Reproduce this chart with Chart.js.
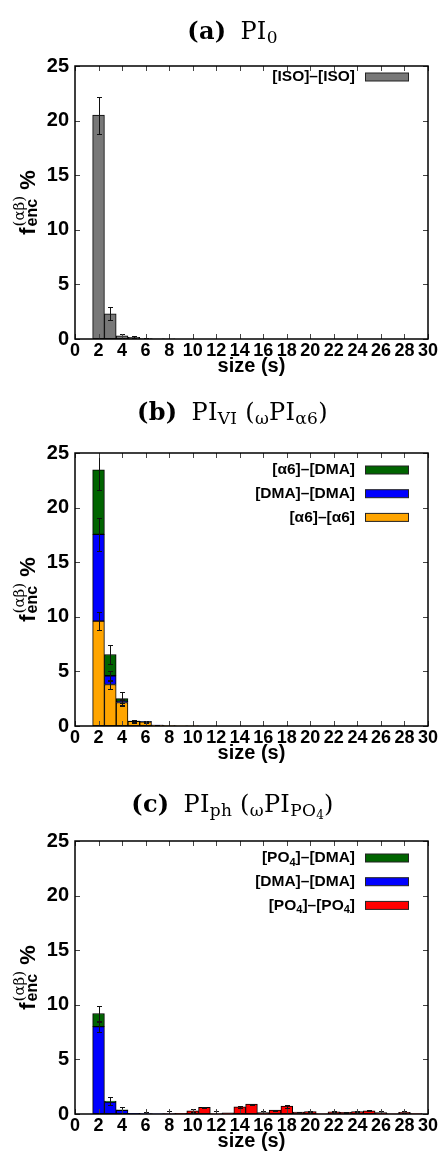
<!DOCTYPE html>
<html>
<head>
<meta charset="utf-8">
<script src="https://cdn.jsdelivr.net/npm/chart.js@4.4.1/dist/chart.umd.min.js"></script>
<style>
  html, body { margin: 0; padding: 0; background: #fff; overflow: hidden; }
  .panel { position: absolute; left: 0; width: 443px; height: 387px; }
  .panel canvas { position: absolute; left: 0; top: 0; }
  .panel h2 { position: absolute; left: 22px; width: 421px; margin: 0; text-align: center;
              font: 400 24px 'DejaVu Serif', serif; line-height: 26px; color: #000; letter-spacing: 0.3px; }
  .panel h2 b { margin-right: 14px; }
  .panel h2 sub { font-size: 17px; vertical-align: -4px; line-height: 0; }
  .panel h2 sub sub { font-size: 12px; vertical-align: -3px; }
</style>
</head>
<body>

<div class="panel" style="top:0">
  <canvas id="chartA" width="443" height="387"></canvas>
  <h2 style="top:18px"><b>(a)</b>PI<sub>0</sub></h2>
</div>
<div class="panel" style="top:387px">
  <canvas id="chartB" width="443" height="387"></canvas>
  <h2 style="top:12px"><b>(b)</b>PI<sub>VI</sub> (<sub>ω</sub>PI<sub>α6</sub>)</h2>
</div>
<div class="panel" style="top:775px">
  <canvas id="chartC" width="443" height="387"></canvas>
  <h2 style="top:16px"><b>(c)</b>PI<sub>ph</sub> (<sub>ω</sub>PI<sub>PO<sub>4</sub></sub>)</h2>
</div>

<script>
// cluster sizes on the x axis
const sizes = [2, 3, 4, 5, 6, 7, 8, 9, 10, 11, 12, 13, 14, 15, 16, 17, 18, 19, 20, 21, 22, 23, 24, 25, 26, 27, 28, 29];
const xTicks = [0, 2, 4, 6, 8, 10, 12, 14, 16, 18, 20, 22, 24, 26, 28, 30];
const yTicks = [0, 5, 10, 15, 20, 25];

// (a) PI0
const isoIso    = [20.5, 2.3, 0.3, 0.15, 0.04, 0.02, 0.01, 0, 0, 0, 0, 0, 0, 0, 0, 0, 0, 0, 0, 0, 0, 0, 0, 0, 0, 0, 0, 0];
const isoIsoErr = [1.7, 0.6, 0.2, 0.08, 0.03, 0, 0, 0, 0, 0, 0, 0, 0, 0, 0, 0, 0, 0, 0, 0, 0, 0, 0, 0, 0, 0, 0, 0];

// (b) PI_VI, stacked bottom to top
const a6A6       = [9.6, 3.8, 2.15, 0.42, 0.38, 0.08, 0.03, 0.01, 0.01, 0, 0, 0, 0, 0, 0, 0, 0, 0, 0, 0, 0, 0, 0, 0, 0, 0, 0, 0];
const a6A6Err    = [0.85, 0.42, 0.35, 0.15, 0.06, 0.02, 0, 0, 0, 0, 0, 0, 0, 0, 0, 0, 0, 0, 0, 0, 0, 0, 0, 0, 0, 0, 0, 0];
const dmaDmaB    = [7.95, 0.8, 0.1, 0.02, 0.02, 0.01, 0, 0, 0, 0, 0, 0, 0, 0, 0, 0, 0, 0, 0, 0, 0, 0, 0, 0, 0, 0, 0, 0];
const dmaDmaBErr = [1.5, 0.45, 0.1, 0, 0, 0, 0, 0, 0, 0, 0, 0, 0, 0, 0, 0, 0, 0, 0, 0, 0, 0, 0, 0, 0, 0, 0, 0];
const a6Dma      = [5.9, 1.95, 0.25, 0.02, 0.01, 0, 0, 0, 0, 0, 0, 0, 0, 0, 0, 0, 0, 0, 0, 0, 0, 0, 0, 0, 0, 0, 0, 0];
const a6DmaErr   = [1.85, 0.9, 0.6, 0.1, 0.05, 0, 0, 0, 0, 0, 0, 0, 0, 0, 0, 0, 0, 0, 0, 0, 0, 0, 0, 0, 0, 0, 0, 0];

// (c) PI_ph, stacked bottom to top
const po4Po4     = [0, 0, 0, 0, 0, 0, 0.01, 0.05, 0.3, 0.6, 0.02, 0.1, 0.65, 0.9, 0.12, 0.35, 0.72, 0.18, 0.22, 0.02, 0.2, 0.16, 0.22, 0.3, 0.12, 0.02, 0.15, 0.03];
const po4Po4Err  = [0, 0, 0, 0, 0, 0, 0.25, 0, 0.15, 0.04, 0.25, 0, 0.12, 0.04, 0.12, 0.05, 0.14, 0.03, 0.05, 0, 0.04, 0.03, 0.04, 0.06, 0.12, 0, 0.1, 0];
const dmaDmaC    = [8.0, 1.1, 0.33, 0.05, 0.04, 0.02, 0.01, 0, 0, 0, 0, 0, 0, 0, 0, 0, 0, 0, 0, 0, 0, 0, 0, 0, 0, 0, 0, 0];
const dmaDmaCErr = [0.45, 0, 0, 0, 0.15, 0, 0, 0, 0, 0, 0, 0, 0, 0, 0, 0, 0, 0, 0, 0, 0, 0, 0, 0, 0, 0, 0, 0];
const po4Dma     = [1.2, 0.08, 0.05, 0.01, 0, 0, 0, 0, 0, 0, 0, 0, 0, 0, 0, 0, 0, 0, 0, 0, 0, 0, 0, 0, 0, 0, 0, 0];
const po4DmaErr  = [0.65, 0.35, 0.25, 0, 0, 0, 0, 0, 0, 0, 0, 0, 0, 0, 0, 0, 0, 0, 0, 0, 0, 0, 0, 0, 0, 0, 0, 0];

const SANS = '"Liberation Sans", Arial, sans-serif';

// "_x" in a label means a one-character subscript
function parseRich(str) {
	const parts = [];
	str.split(/(_.)/).forEach(p => {
		if (!p) return;
		if (p[0] === '_') parts.push({ t: p[1], sub: true });
		else parts.push({ t: p, sub: false });
	});
	return parts;
}

/* frame and inward ticks on all four sides */
const frame = {
	id: 'frame',
	afterDraw(chart) {
		const { ctx, chartArea: a, scales: { x, y } } = chart;
		ctx.save();
		ctx.strokeStyle = '#444';
		ctx.lineWidth = 1;
		ctx.beginPath();
		xTicks.forEach(v => {
			const p = Math.round(x.getPixelForValue(v)) + 0.5;
			ctx.moveTo(p, a.bottom); ctx.lineTo(p, a.bottom - 5);
			ctx.moveTo(p, a.top); ctx.lineTo(p, a.top + 5);
		});
		yTicks.forEach(v => {
			const p = Math.round(y.getPixelForValue(v)) + 0.5;
			ctx.moveTo(a.left, p); ctx.lineTo(a.left + 5, p);
			ctx.moveTo(a.right, p); ctx.lineTo(a.right - 5, p);
		});
		ctx.stroke();
		ctx.strokeStyle = '#000';
		ctx.lineWidth = 1.5;
		ctx.strokeRect(a.left, a.top, a.right - a.left, a.bottom - a.top);
		ctx.restore();
	}
};

/* error bars at the top of each stacked segment */
const errorBars = {
	id: 'errorBars',
	afterDatasetsDraw(chart) {
		const { ctx, chartArea: a, scales: { y } } = chart;
		const sets = chart.data.datasets;
		ctx.save();
		ctx.beginPath();
		ctx.rect(a.left, a.top, a.right - a.left, a.bottom - a.top);
		ctx.clip();
		ctx.strokeStyle = '#111';
		ctx.lineWidth = 1;
		ctx.beginPath();
		sets.forEach((ds, i) => {
			chart.getDatasetMeta(i).data.forEach((bar, j) => {
				const e = ds.errors[j];
				if (!e) return;
				let top = 0;
				for (let k = 0; k <= i; k++) top += sets[k].data[j].y;
				const x = Math.round(bar.x) + 0.5;
				const y1 = Math.round(y.getPixelForValue(top + e)) + 0.5;
				const y2 = Math.round(y.getPixelForValue(Math.max(top - e, 0))) + 0.5;
				ctx.moveTo(x, y1); ctx.lineTo(x, y2);
				ctx.moveTo(x - 2.5, y1); ctx.lineTo(x + 2.5, y1);
				ctx.moveTo(x - 2.5, y2); ctx.lineTo(x + 2.5, y2);
			});
		});
		ctx.stroke();
		ctx.restore();
	}
};

/* key in the upper right corner, last dataset first */
const keyBox = {
	id: 'keyBox',
	afterDraw(chart, args, opts) {
		const { ctx, chartArea: a } = chart;
		const sets = chart.data.datasets.slice().reverse();
		ctx.save();
		ctx.textBaseline = 'middle';
		ctx.fillStyle = '#000';
		sets.forEach((ds, i) => {
			const yc = a.top + opts.top + i * 23.7;
			const parts = parseRich(ds.label);
			const fonts = parts.map(p => p.sub ? 'bold 11px ' + SANS : 'bold 15.5px ' + SANS);
			let w = 0;
			parts.forEach((p, k) => { ctx.font = fonts[k]; w += ctx.measureText(p.t).width; });
			let x = 355 - w;
			parts.forEach((p, k) => {
				ctx.font = fonts[k];
				ctx.fillText(p.t, x, p.sub ? yc + 5 : yc);
				x += ctx.measureText(p.t).width;
			});
			ctx.fillStyle = ds.backgroundColor;
			ctx.fillRect(365.5, yc - 4, 43, 8);
			ctx.strokeStyle = '#222';
			ctx.lineWidth = 1;
			ctx.strokeRect(365.5, yc - 4, 43, 8);
			ctx.fillStyle = '#000';
		});
		ctx.restore();
	}
};

/* rotated y title: f with (αβ) above and enc below, then % */
const yLabel = {
	id: 'yLabel',
	afterDraw(chart) {
		const { ctx, chartArea: a } = chart;
		const big = 'bold 22px ' + SANS;
		const sup = '15px "DejaVu Serif", serif';
		const sub = 'bold 16px ' + SANS;
		ctx.save();
		ctx.translate(35, (a.top + a.bottom) / 2);
		ctx.rotate(-Math.PI / 2);
		ctx.fillStyle = '#000';
		ctx.textBaseline = 'alphabetic';
		ctx.font = big; const wf = ctx.measureText('f').width;
		ctx.font = sup; const wsup = ctx.measureText('(αβ)').width;
		ctx.font = sub; const wsub = ctx.measureText('enc').width;
		ctx.font = big; const wp = ctx.measureText(' %').width;
		const total = wf + 1 + Math.max(wsup, wsub) + wp;
		let x = -total / 2;
		ctx.font = big; ctx.fillText('f', x, 0);
		x += wf + 1;
		ctx.font = sup; ctx.fillText('(αβ)', x, -11);
		ctx.font = sub; ctx.fillText('enc', x, 2);
		x += Math.max(wsup, wsub);
		ctx.font = big; ctx.fillText(' %', x, 0);
		ctx.restore();
	}
};

function makeChart(id, series, keyTop) {
	return new Chart(document.getElementById(id), {
		type: 'bar',
		data: {
			datasets: series.map(s => ({
				label: s.label,
				data: sizes.map((x, i) => ({ x: x, y: s.values[i] })),
				errors: s.errors,
				backgroundColor: s.color,
				borderColor: '#000',
				borderWidth: 1,
				borderSkipped: false,
				barPercentage: 1,
				categoryPercentage: 1
			}))
		},
		options: {
			responsive: false,
			animation: false,
			events: [],
			layout: { padding: { left: 0, right: 15, top: 66, bottom: 0 } },
			plugins: {
				legend: { display: false },
				tooltip: { enabled: false },
				keyBox: { top: keyTop }
			},
			scales: {
				x: {
					type: 'linear',
					offset: false,
					min: 0,
					max: 30,
					stacked: true,
					grid: { display: false, drawTicks: false },
					border: { display: false },
					afterBuildTicks: s => { s.ticks = xTicks.map(v => ({ value: v })); },
					afterFit: s => { s.height = 48; },
					ticks: {
						autoSkip: false,
						maxRotation: 0,
						padding: 1,
						color: '#000',
						font: { family: SANS, weight: 'bold', size: 18 }
					},
					title: {
						display: true,
						text: 'size (s)',
						color: '#000',
						font: { family: SANS, weight: 'bold', size: 20 },
						padding: { top: 0, bottom: 9 }
					}
				},
				y: {
					min: 0,
					max: 25,
					stacked: true,
					grid: { display: false, drawTicks: false },
					border: { display: false },
					afterBuildTicks: s => { s.ticks = yTicks.map(v => ({ value: v })); },
					afterFit: s => { s.width = 75; },
					ticks: {
						padding: 6,
						color: '#000',
						font: { family: SANS, weight: 'bold', size: 20 }
					}
				}
			}
		},
		plugins: [errorBars, frame, keyBox, yLabel]
	});
}

makeChart('chartA', [
	{ label: '[ISO]–[ISO]', values: isoIso, errors: isoIsoErr, color: '#787878' }
], 11);

makeChart('chartB', [
	{ label: '[α6]–[α6]', values: a6A6, errors: a6A6Err, color: '#ffa500' },
	{ label: '[DMA]–[DMA]', values: dmaDmaB, errors: dmaDmaBErr, color: '#0000ff' },
	{ label: '[α6]–[DMA]', values: a6Dma, errors: a6DmaErr, color: '#006400' }
], 17);

makeChart('chartC', [
	{ label: '[PO_4]–[PO_4]', values: po4Po4, errors: po4Po4Err, color: '#ff0000' },
	{ label: '[DMA]–[DMA]', values: dmaDmaC, errors: dmaDmaCErr, color: '#0000ff' },
	{ label: '[PO_4]–[DMA]', values: po4Dma, errors: po4DmaErr, color: '#006400' }
], 17);
</script>
</body>
</html>
